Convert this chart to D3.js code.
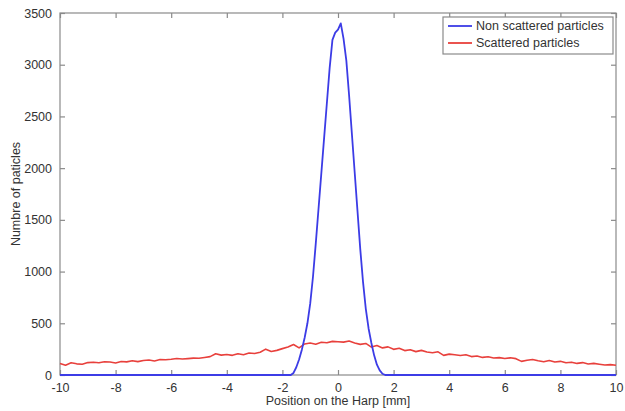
<!DOCTYPE html>
<html><head><meta charset="utf-8">
<script src="https://cdn.jsdelivr.net/npm/d3@7"></script>
<style>
body{margin:0;background:#fff;}
svg{display:block;}
text{font-family:"Liberation Sans",Arial,sans-serif;}
</style></head>
<body>
<svg id="c" width="625" height="411"></svg>
<script>
// ---- data ----
const xTicks = [-10,-8,-6,-4,-2,0,2,4,6,8,10];
const yTicks = [0,500,1000,1500,2000,2500,3000,3500];

const blueX = [-10,-1.7,-1.6,-1.5,-1.4,-1.3,-1.2,-1.1,-1.0,-0.9,-0.8,-0.7,-0.6,-0.5,-0.4,-0.3,-0.2,-0.1,0.0,0.1,0.2,0.3,0.4,0.5,0.6,0.7,0.8,0.9,1.0,1.1,1.2,1.3,1.4,1.5,1.6,1.7,10];
const blueY = [0,0,20,75,150,245,360,500,690,950,1270,1610,1950,2290,2630,2970,3240,3310,3340,3400,3250,3040,2700,2330,1960,1590,1220,900,640,450,310,190,100,45,12,0,0];

const redStart = -10, redStep = 0.2;
const redY = [112,95,118,108,104,120,124,119,128,125,116,130,127,137,129,140,145,136,150,148,
  152,160,154,158,163,162,170,178,205,192,198,190,205,196,212,208,220,250,228,238,
  255,270,295,262,300,310,298,316,312,325,322,318,328,310,296,305,270,285,262,272,
  248,258,236,244,226,238,222,215,224,190,202,196,188,195,178,184,170,176,164,168,
  160,166,158,132,142,150,138,128,140,126,132,118,124,112,120,106,112,104,96,100,94];

const seriesNames = ["Non scattered particles","Scattered particles"];
const seriesColors = ["#3c3ce6","#e8403c"];

// ---- chart ----
const svg = d3.select("#c");
const L=60, R=616, T=13, B=375;
const x = d3.scaleLinear().domain([-10,10]).range([L,R]);
const y = d3.scaleLinear().domain([0,3500]).range([B,T]);
const axisCol = "#8a8a8a", textCol = "#333";
const fmt = d => String(d);

svg.append("rect").attr("x",L).attr("y",T).attr("width",R-L).attr("height",B-T)
  .attr("fill","none").attr("stroke",axisCol).attr("stroke-width",1.2);

function styleAxis(g){
  g.select(".domain").remove();
  g.selectAll("line").attr("stroke",axisCol).attr("stroke-width",1.2);
  g.selectAll("text").attr("fill",textCol).style("font-size","12.5px");
}
svg.append("g").attr("transform",`translate(0,${B})`)
  .call(d3.axisBottom(x).tickValues(xTicks).tickSizeInner(-5).tickSizeOuter(0).tickPadding(8).tickFormat(fmt))
  .call(styleAxis);
svg.append("g").attr("transform",`translate(0,${T})`)
  .call(d3.axisTop(x).tickValues(xTicks).tickSizeInner(-5).tickSizeOuter(0).tickFormat(""))
  .call(styleAxis);
svg.append("g").attr("transform",`translate(${L},0)`)
  .call(d3.axisLeft(y).tickValues(yTicks).tickSizeInner(-5).tickSizeOuter(0).tickPadding(8).tickFormat(fmt))
  .call(styleAxis);
svg.append("g").attr("transform",`translate(${R},0)`)
  .call(d3.axisRight(y).tickValues(yTicks).tickSizeInner(-5).tickSizeOuter(0).tickFormat(""))
  .call(styleAxis);

const line = d3.line().x(d=>x(d[0])).y(d=>y(d[1]));
const redData = redY.map((v,i)=>[redStart+i*redStep, v]);
const blueData = blueX.map((v,i)=>[v, blueY[i]]);
svg.append("path").datum(redData).attr("d",line).attr("fill","none")
  .attr("stroke",seriesColors[1]).attr("stroke-width",1.6).attr("stroke-linejoin","round");
svg.append("path").datum(blueData).attr("d",line).attr("fill","none")
  .attr("stroke",seriesColors[0]).attr("stroke-width",1.8).attr("stroke-linejoin","round");

svg.append("text").attr("x",(L+R)/2).attr("y",405).attr("text-anchor","middle")
  .attr("fill",textCol).style("font-size","12.5px").text("Position on the Harp [mm]");
svg.append("text").attr("transform",`translate(20,${(T+B)/2}) rotate(-90)`).attr("text-anchor","middle")
  .attr("fill",textCol).style("font-size","12.5px").text("Numbre of paticles");

const lg = svg.append("g");
lg.append("rect").attr("x",443).attr("y",17).attr("width",170).attr("height",37)
  .attr("fill","#fff").attr("stroke",axisCol).attr("stroke-width",1.2);
seriesNames.forEach((n,i)=>{
  const yy = 26 + i*17;
  lg.append("line").attr("x1",448).attr("x2",472).attr("y1",yy).attr("y2",yy)
    .attr("stroke",seriesColors[i]).attr("stroke-width",1.8);
  lg.append("text").attr("x",476).attr("y",yy+4).attr("fill",textCol)
    .style("font-size","12.5px").text(n);
});
</script>
</body></html>
